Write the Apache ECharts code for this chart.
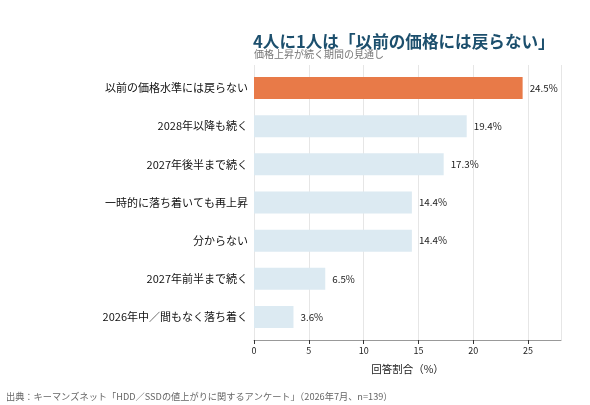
<!DOCTYPE html>
<html><head><meta charset="utf-8">
<script src="https://cdn.jsdelivr.net/npm/echarts@6/dist/echarts.min.js"></script>
<style>html,body{margin:0;padding:0;background:#fff}#c{width:590px;height:405px}</style>
</head><body><div id="c"></div>
<script>
const categories = ['以前の価格水準には戻らない','2028年以降も続く','2027年後半まで続く','一時的に落ち着いても再上昇','分からない','2027年前半まで続く','2026年中／間もなく落ち着く'];
const values = [24.5, 19.4, 17.3, 14.4, 14.4, 6.5, 3.6];
const xTicks = [0, 5, 10, 15, 20, 25];
const highlightIndex = 0;

const font = '"Noto Sans CJK JP","Noto Sans",sans-serif';
const chart = echarts.init(document.getElementById('c'));
chart.setOption({
  backgroundColor: '#fff',
  textStyle: {fontFamily: font},
  title: [
    {text: '4人に1人は「以前の価格には戻らない」', left: 253, top: 33, padding: 0,
     textStyle: {fontFamily: font, fontSize: 16.6, fontWeight: 'bold', color: '#1c4f6d'}},
    {text: '価格上昇が続く期間の見通し', left: 254, top: 49, padding: 0,
     textStyle: {fontFamily: font, fontSize: 10, fontWeight: 'normal', color: '#777'}},
    {text: '出典：キーマンズネット「HDD／SSDの値上がりに関するアンケート」（2026年7月、n=139）', left: 6, top: 392, padding: 0,
     textStyle: {fontFamily: font, fontSize: 9.2, fontWeight: 'normal', color: '#666'}}
  ],
  grid: [
    {left: 254, right: 29, top: 69, bottom: 69},
    {left: 254, right: 29, top: 65, bottom: 65}
  ],
  xAxis: [
    {type: 'value', gridIndex: 0, min: 0, max: 28, interval: 5, show: false},
    {type: 'value', gridIndex: 1, min: 0, max: 28, interval: 5,
     name: '回答割合（%）', nameLocation: 'middle', nameGap: 24,
     nameTextStyle: {fontFamily: font, fontSize: 10.5, color: '#222'},
     axisLine: {show: true, lineStyle: {color: '#999'}},
     axisTick: {show: true, length: 4, lineStyle: {color: '#333'}},
     axisLabel: {fontSize: 9, color: '#222', margin: 6, showMaxLabel: false,
       formatter: v => xTicks.includes(v) ? String(v) : ''},
     splitLine: {show: true, lineStyle: {color: '#e6e6e6', width: 1}}}
  ],
  yAxis: [
    {type: 'category', gridIndex: 0, data: categories, inverse: true,
     axisLine: {show: false}, axisTick: {show: false},
     axisLabel: {fontSize: 11, color: '#111', margin: 6}},
    {type: 'category', gridIndex: 1, data: categories, show: false}
  ],
  series: [{
    type: 'bar', xAxisIndex: 0, yAxisIndex: 0,
    data: values.map((v, i) => ({value: v, itemStyle: {color: i === highlightIndex ? '#e87a48' : '#dceaf2'}})),
    barWidth: 22,
    label: {show: true, position: 'right', distance: 7, fontSize: 9.8, color: '#222',
      formatter: p => p.value.toFixed(1) + '%'},
    silent: true, animation: false
  }],
  animation: false
});
</script></body></html>
